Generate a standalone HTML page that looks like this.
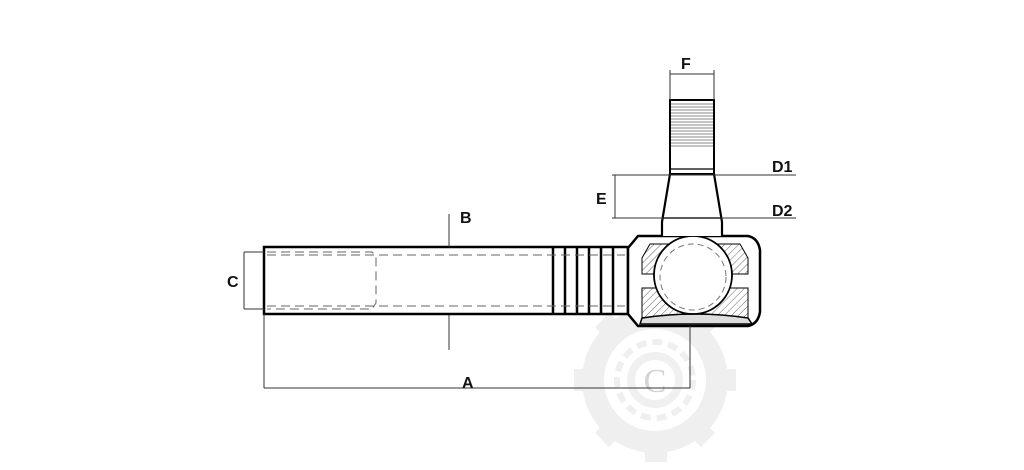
<!DOCTYPE html>
<html><head><style>html,body{margin:0;padding:0;background:#fff;}svg{display:block}</style></head>
<body>
<svg width="1024" height="470" viewBox="0 0 1024 470" xmlns="http://www.w3.org/2000/svg" font-family="Liberation Sans, sans-serif">
<defs>
<pattern id="h" width="5" height="5" patternUnits="userSpaceOnUse" patternTransform="rotate(45)"><line x1="0" y1="0" x2="0" y2="5" stroke="#666" stroke-width="1"/></pattern>
</defs>
<!-- watermark gear -->
<g fill="none" stroke="#efefef">
<circle cx="655" cy="380" r="62" stroke-width="22"/>
<circle cx="655" cy="380" r="38" stroke-width="6" stroke-dasharray="10 6"/>
<circle cx="655" cy="380" r="24" stroke-width="8" stroke="#f0f0f0"/>
</g>
<g fill="#efefef">
<rect x="645" y="298" width="22" height="14"/><rect x="645" y="448" width="22" height="14"/>
<rect x="574" y="369" width="14" height="22"/><rect x="722" y="369" width="14" height="22"/>
<rect x="597" y="318" width="20" height="14" transform="rotate(-45 607 325)"/>
<rect x="693" y="318" width="20" height="14" transform="rotate(45 703 325)"/>
<rect x="597" y="428" width="20" height="14" transform="rotate(45 607 435)"/>
<rect x="693" y="428" width="20" height="14" transform="rotate(-45 703 435)"/>
</g>
<text x="655" y="392" font-family="Liberation Serif, serif" font-size="34" fill="#d4d4d4" text-anchor="middle">C</text>
<!-- rod -->
<g stroke="#000" fill="none">
<rect x="264" y="247" width="364" height="67" stroke-width="2.5" fill="#fff"/>
<g stroke-width="2.5"><line x1="553" y1="247" x2="553" y2="314"/><line x1="565" y1="247" x2="565" y2="314"/><line x1="577" y1="247" x2="577" y2="314"/><line x1="589" y1="247" x2="589" y2="314"/><line x1="601" y1="247" x2="601" y2="314"/><line x1="613" y1="247" x2="613" y2="314"/></g>
<g stroke="#666" stroke-width="1" stroke-dasharray="9 5">
<line x1="267" y1="255" x2="625" y2="255"/><line x1="267" y1="306" x2="625" y2="306"/>
<path d="M267 252 H372 L376 256 V303 L372 309 H267"/>
</g>
<!-- head -->
<path d="M628 248 L638 236 H748 Q758 238 760 250 V312 Q758 324 748 326 H638 L628 314 Z" stroke-width="2.5" fill="#fff"/>
<path d="M642 258 L650 244 H740 L748 258 V274 H642 Z" fill="url(#h)" stroke-width="1"/>
<path d="M642 288 H748 V320 H642 Z" fill="url(#h)" stroke-width="1"/>
<line x1="642" y1="274" x2="748" y2="274" stroke-width="1"/>
<line x1="642" y1="288" x2="748" y2="288" stroke-width="1"/>
<path d="M642 318 Q695 310 748 318 L752 324 H640 Z" fill="#ddd" stroke-width="1.5"/>
<circle cx="693" cy="275" r="39" fill="#fff" stroke-width="1.8"/>
<circle cx="693" cy="277" r="33" stroke="#777" stroke-width="1" stroke-dasharray="6 4"/>
<!-- shank -->
<path d="M662 236 V222 L670 174 H714 L722 222 V236" stroke-width="2.2" fill="#fff"/>
<line x1="662" y1="218" x2="722" y2="218" stroke-width="1.5"/>
<rect x="670" y="100" width="44" height="74" stroke-width="2" fill="#fff"/>
<line x1="670" y1="169" x2="714" y2="169" stroke-width="1.2"/>
<g stroke="#888" stroke-width="1">
<line x1="671" y1="104" x2="713" y2="104"/><line x1="671" y1="107" x2="713" y2="107"/><line x1="671" y1="110" x2="713" y2="110"/><line x1="671" y1="113" x2="713" y2="113"/><line x1="671" y1="116" x2="713" y2="116"/><line x1="671" y1="119" x2="713" y2="119"/><line x1="671" y1="122" x2="713" y2="122"/><line x1="671" y1="125" x2="713" y2="125"/><line x1="671" y1="128" x2="713" y2="128"/><line x1="671" y1="131" x2="713" y2="131"/><line x1="671" y1="134" x2="713" y2="134"/><line x1="671" y1="137" x2="713" y2="137"/><line x1="671" y1="140" x2="713" y2="140"/><line x1="671" y1="143" x2="713" y2="143"/><line x1="671" y1="146" x2="713" y2="146"/>
</g>
<!-- dimensions -->
<g stroke="#333" stroke-width="1">
<line x1="670" y1="74" x2="714" y2="74"/><line x1="670" y1="70" x2="670" y2="100"/><line x1="714" y1="70" x2="714" y2="100"/>
<line x1="612" y1="175" x2="796" y2="175"/><line x1="612" y1="218" x2="796" y2="218"/>
<line x1="615" y1="175" x2="615" y2="218"/>
<line x1="449" y1="214" x2="449" y2="247"/><line x1="449" y1="315" x2="449" y2="350"/>
<line x1="244" y1="252" x2="244" y2="309"/><line x1="244" y1="252" x2="264" y2="252"/><line x1="244" y1="309" x2="264" y2="309"/>
<line x1="264" y1="314" x2="264" y2="388"/><line x1="264" y1="388" x2="690" y2="388"/><line x1="690" y1="326" x2="690" y2="388"/>
</g>
</g>
<g font-weight="bold" font-size="16" fill="#111">
<text x="681" y="69">F</text>
<text x="772" y="172">D1</text>
<text x="772" y="216">D2</text>
<text x="596" y="204">E</text>
<text x="460" y="223">B</text>
<text x="227" y="287">C</text>
<text x="462" y="388">A</text>
</g>
</svg>
</body></html>
